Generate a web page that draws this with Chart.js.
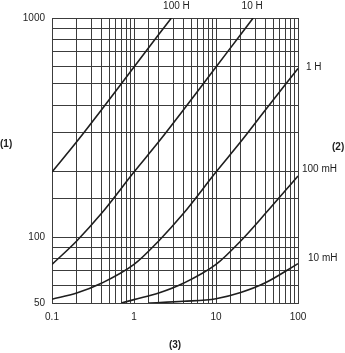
<!DOCTYPE html>
<html>
<head>
<meta charset="utf-8">
<script src="https://cdn.jsdelivr.net/npm/chart.js@4/dist/chart.umd.min.js"></script>
<style>
  html, body { margin: 0; padding: 0; background: #fff; }
</style>
</head>
<body>
<canvas id="chart" width="345" height="353"></canvas>
<script>
// tick labels that are printed
const xTickLabels = [0.1, 1, 10, 100]
const yTickLabels = [50, 100, 1000]

// curve names
const curveNames = ['100 H', '10 H', '1 H', '100 mH', '10 mH']

// values
const x100H = [0.1, 0.2, 0.4, 1, 2, 2.86]
const y100H = [198, 272, 380, 598, 840, 1000]

const x10H = [0.1, 0.2, 0.4, 1, 2, 4, 10, 20, 28.4]
const y10H = [75, 96, 128, 198, 272, 380, 598, 840, 1000]

const x1H = [0.1, 0.2, 0.4, 1, 2, 4, 10, 20, 40, 100]
const y1H = [52, 55.5, 61.5, 75, 96, 128, 198, 272, 380, 588]

const x100mH = [0.7, 1, 2, 4, 10, 20, 40, 100]
const y100mH = [50, 51.8, 55.5, 61.5, 75, 96, 128, 190]

const x10mH = [1.5, 4, 10, 20, 40, 100]
const y10mH = [50, 50.9, 52.3, 55.8, 61.8, 75.6]

const seriesX = [x100H, x10H, x1H, x100mH, x10mH]
const seriesY = [y100H, y10H, y1H, y100mH, y10mH]

const FONT = '"Liberation Sans", Arial, sans-serif'
const GRID = '#3c3c3c'
const INK = '#1e1e1e'

// label nudges (px) for each curve name: [dx, dy]
const labelNudge = [[5, 0], [-1, 0], [8, -1], [4, -7], [10, -5]]

const isListed = (v, list) => list.some(t => Math.abs(Math.log10(v / t)) < 1e-6)

const curveLabels = {
  id: 'curveLabels',
  afterDraw(chart) {
    const { ctx, chartArea } = chart
    ctx.save()
    ctx.fillStyle = INK
    ctx.textBaseline = 'middle'
    ctx.font = '10px ' + FONT
    chart.data.datasets.forEach((ds, i) => {
      const pts = chart.getDatasetMeta(i).data
      const last = pts[pts.length - 1]
      const [dx, dy] = labelNudge[i]
      if (last.y <= chartArea.top + 1) {
        ctx.textAlign = 'center'
        ctx.fillText(ds.label, last.x + dx, chartArea.top - 12)
      } else {
        ctx.textAlign = 'left'
        ctx.fillText(ds.label, chartArea.right + dx, last.y + dy)
      }
    })
    // axis names
    ctx.font = 'bold 10px ' + FONT
    ctx.textAlign = 'left'
    ctx.fillText('(1)', 0, 144)
    ctx.fillText('(2)', 332, 147)
    ctx.textAlign = 'center'
    ctx.fillText('(3)', (chartArea.left + chartArea.right) / 2, 345)
    ctx.restore()
  },
}

const datasets = seriesX.map((xs, i) => ({
  label: curveNames[i],
  data: xs.map((x, j) => ({ x: x, y: seriesY[i][j] })),
  borderColor: INK,
  borderWidth: 1.6,
  pointRadius: 0,
  cubicInterpolationMode: 'monotone',
  fill: false,
}))

const chart = new Chart(document.getElementById('chart').getContext('2d'), {
  type: 'line',
  data: { datasets: datasets },
  plugins: [curveLabels],
  options: {
    responsive: false,
    animation: false,
    layout: { padding: { left: 0, right: 47, top: 18, bottom: 0 } },
    plugins: { legend: { display: false }, tooltip: { enabled: false } },
    scales: {
      x: {
        type: 'logarithmic',
        min: 0.1,
        max: 100,
        afterFit: s => { s.height = 50 },
        grid: { color: GRID, lineWidth: 1, drawTicks: false },
        border: { color: GRID, width: 1 },
        ticks: {
          autoSkip: false,
          maxRotation: 0,
          padding: 8,
          color: INK,
          font: { family: FONT, size: 10 },
          callback: v => (isListed(v, xTickLabels) ? String(v) : ''),
        },
      },
      y: {
        type: 'logarithmic',
        min: 50,
        max: 1000,
        afterFit: s => { s.width = 52 },
        grid: { color: GRID, lineWidth: 1, drawTicks: false },
        border: { color: GRID, width: 1 },
        ticks: {
          autoSkip: false,
          padding: 7,
          color: INK,
          font: { family: FONT, size: 10 },
          callback: v => (isListed(v, yTickLabels) ? String(v) : ''),
        },
      },
    },
  },
})
</script>
</body>
</html>
